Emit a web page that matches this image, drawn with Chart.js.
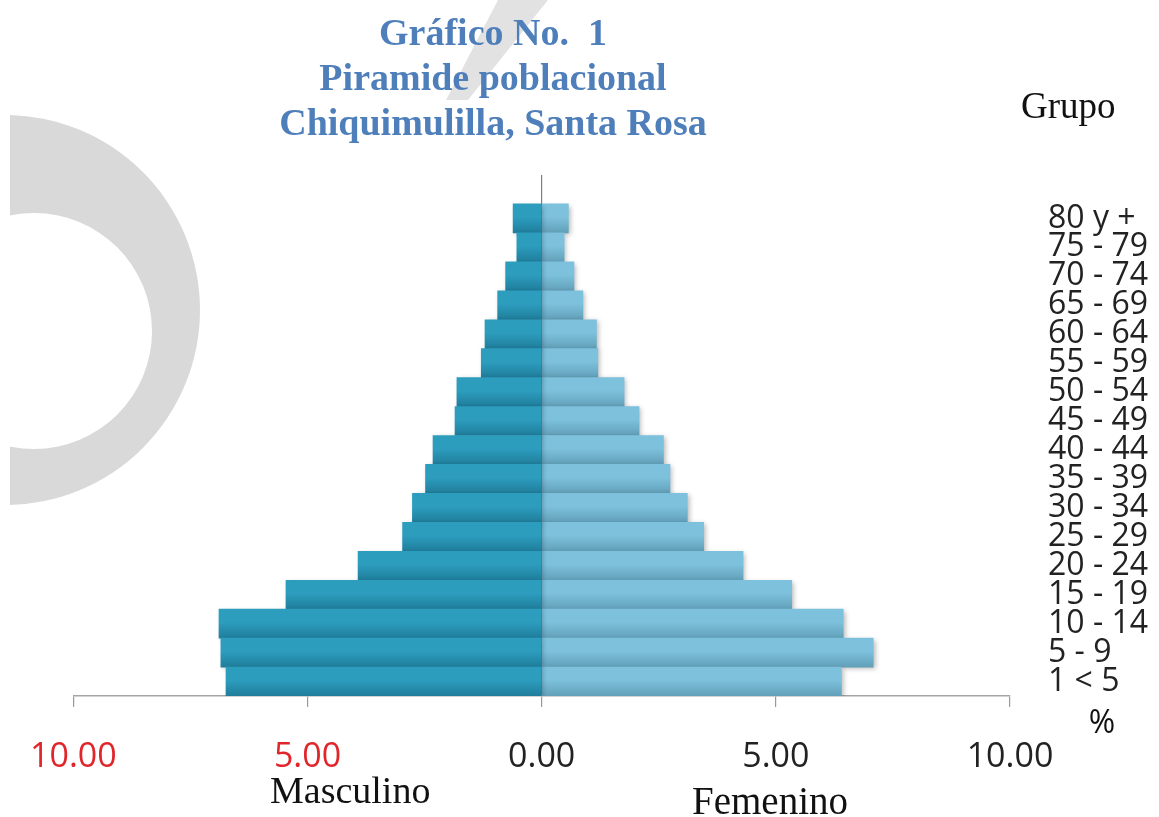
<!DOCTYPE html>
<html>
<head>
<meta charset="utf-8">
<script src="https://cdn.jsdelivr.net/npm/chart.js@4"></script>
<style>
html,body{margin:0;padding:0;background:#fff;}
canvas{display:block;}
</style>
</head>
<body>
<canvas id="c" width="1159" height="817"></canvas>
<script>
// ---- data (top to bottom) ----
const groups = ['80 y +','75 - 79','70 - 74','65 - 69','60 - 64','55 - 59','50 - 54','45 - 49','40 - 44','35 - 39','30 - 34','25 - 29','20 - 24','15 - 19','10 - 14','5 - 9','1 < 5'];
const masculino = [0.61,0.53,0.77,0.94,1.21,1.29,1.81,1.85,2.32,2.48,2.76,2.97,3.92,5.46,6.89,6.85,6.74];
const femenino  = [0.57,0.48,0.69,0.88,1.17,1.20,1.76,2.08,2.60,2.74,3.11,3.46,4.30,5.34,6.44,7.08,6.40];
const xTicks = [-10,-5,0,5,10];
const titleLines = ['Gráfico No.  1','Piramide poblacional','Chiquimulilla, Santa Rosa'];
const labelMasc = 'Masculino';
const labelFem = 'Femenino';
const labelGrupo = 'Grupo';
const labelPct = '%';

// empty top slot keeps the vertical axis above the oldest group
const labels = [''].concat(groups);
const mascData = [null].concat(masculino.map(v => -v));
const femData = [null].concat(femenino);

function barGradient(top, bottom) {
  return (ctx) => {
    const ch = ctx.chart;
    const ys = ch.scales && ch.scales.y;
    if (!ys || ctx.type !== 'data' || !ch.chartArea) return top;
    const cy = ys.getPixelForValue(ctx.dataIndex);
    const h = Math.abs(ys.getPixelForValue(1) - ys.getPixelForValue(0));
    const g = ch.ctx.createLinearGradient(0, cy - h / 2, 0, cy + h / 2);
    g.addColorStop(0, top);
    g.addColorStop(0.45, top);
    g.addColorStop(1, bottom);
    return g;
  };
}

const decor = {
  id: 'decor',
  beforeDraw(chart) {
    const c = chart.ctx;
    c.save();
    // grey ring on the left
    c.beginPath();
    c.rect(10, 0, 400, 817);
    c.clip();
    c.beginPath();
    c.arc(5, 310, 195, 0, Math.PI * 2);
    c.arc(34, 331, 118, 0, Math.PI * 2, true);
    c.fillStyle = '#d9d9d9';
    c.fill('evenodd');
    c.restore();
    // faint slanted band behind title
    c.save();
    c.beginPath();
    c.moveTo(498, 0); c.lineTo(548, 0); c.lineTo(468, 100); c.lineTo(446, 100);
    c.closePath();
    c.fillStyle = '#e2e2e2';
    c.fill();
    c.restore();
  },
  beforeDatasetsDraw(chart) {
    const c = chart.ctx;
    c.save();
    c.shadowColor = 'rgba(0,0,0,0.28)';
    c.shadowBlur = 5;
    c.shadowOffsetX = 2;
    c.shadowOffsetY = 2;
  },
  afterDatasetsDraw(chart) {
    chart.ctx.restore();
  },
  afterDraw(chart) {
    const c = chart.ctx;
    c.save();
    c.textBaseline = 'alphabetic';
    // title
    c.fillStyle = '#4f7fba';
    c.font = 'bold 38px "Liberation Serif", "Times New Roman", serif';
    c.textAlign = 'center';
    const base = [45, 90, 135];
    titleLines.forEach((t, i) => c.fillText(t, 493, base[i]));
    // Grupo
    c.fillStyle = '#111';
    c.textAlign = 'left';
    c.font = '37px "Liberation Serif", "Times New Roman", serif';
    c.fillText(labelGrupo, 1021, 118);
    // Masculino / Femenino
    c.font = '38px "Liberation Serif", "Times New Roman", serif';
    c.fillText(labelMasc, 270, 803);
    c.font = '39px "Liberation Serif", "Times New Roman", serif';
    c.fillText(labelFem, 692, 814);
    // %
    c.textAlign = 'center';
    c.font = '32px "Open Sans", sans-serif';
    c.fillText(labelPct, 1102, 733);
    c.restore();
  }
};

new Chart(document.getElementById('c'), {
  type: 'bar',
  data: {
    labels: labels,
    datasets: [
      { label: labelMasc, data: mascData, backgroundColor: barGradient('#2d9dbe', '#1f7d9b'), borderWidth: 0, barPercentage: 1, categoryPercentage: 1 },
      { label: labelFem, data: femData, backgroundColor: barGradient('#7dc1dc', '#62a0b9'), borderWidth: 0, barPercentage: 1, categoryPercentage: 1 }
    ]
  },
  options: {
    indexAxis: 'y',
    responsive: false,
    animation: false,
    layout: { padding: { top: 175, left: 73, right: 0, bottom: 0 } },
    plugins: { legend: { display: false }, tooltip: { enabled: false }, title: { display: false } },
    scales: {
      x: {
        type: 'linear',
        stacked: true,
        min: -10, max: 10,
        afterBuildTicks: (s) => { s.ticks = xTicks.map(v => ({ value: v })); },
        afterFit: (s) => { s.height = 121; },
        border: { display: true, color: '#a6a6a6', width: 1.5 },
        grid: {
          drawOnChartArea: true,
          color: (ctx) => (ctx.tick && ctx.tick.value === 0) ? '#7f7f7f' : 'rgba(0,0,0,0)',
          tickColor: '#999999',
          tickLength: 11,
          lineWidth: 1.2
        },
        ticks: {
          autoSkip: false,
          maxRotation: 0,
          padding: 30,
          font: { family: '"Open Sans", sans-serif', size: 34 },
          color: (ctx) => (ctx.tick && ctx.tick.value < 0) ? '#e0252b' : '#222222',
          callback: (v) => Math.abs(v).toFixed(2)
        }
      },
      y: {
        type: 'category',
        position: 'right',
        stacked: true,
        afterFit: (s) => { s.width = 149; },
        border: { display: false },
        grid: { display: false, drawTicks: false },
        ticks: {
          autoSkip: false,
          padding: 38,
          font: { family: '"Open Sans", sans-serif', size: 32, lineHeight: 1 },
          color: '#222222'
        }
      }
    }
  },
  plugins: [decor]
});
</script>
</body>
</html>
